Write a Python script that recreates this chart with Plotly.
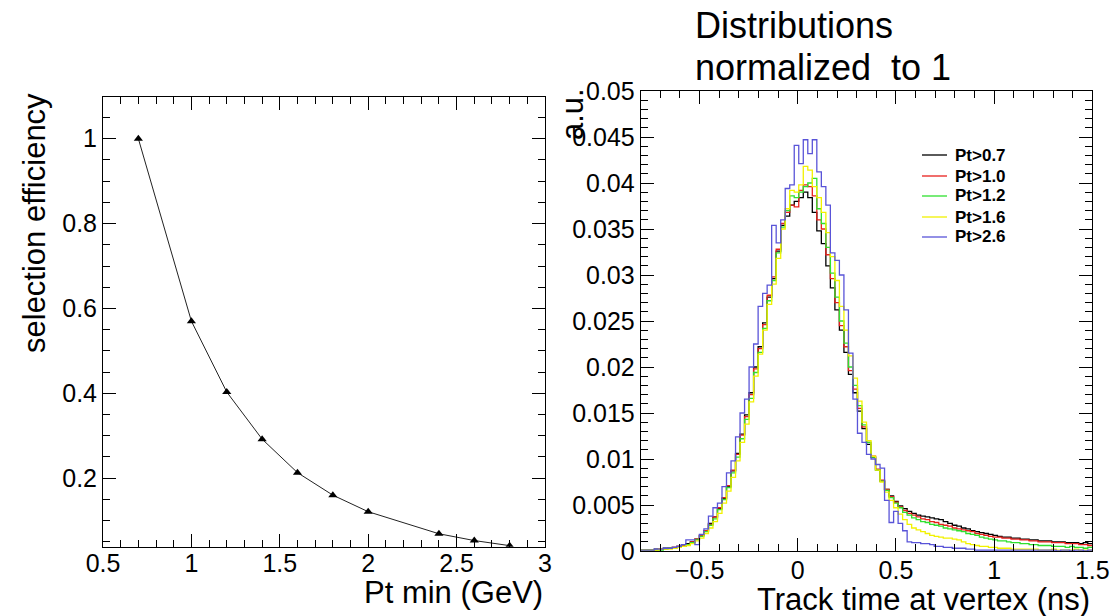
import numpy as np
import plotly.graph_objects as go

# ---------------- data ----------------
# Left panel: selection efficiency vs minimum Pt
pt_min = [0.7, 1.0, 1.2, 1.4, 1.6, 1.8, 2.0, 2.4, 2.6, 2.8]
efficiency = [1.0, 0.570, 0.403, 0.292, 0.213, 0.160, 0.121, 0.069, 0.053, 0.041]

# Right panel: histogram binning (track time at vertex, ns)
bin_low = -0.8
bin_width = 0.023
n_bins = 100

series_names = ["Pt>0.7", "Pt>1.0", "Pt>1.2", "Pt>1.6", "Pt>2.6"]
series_colors = ["#000000", "#e8201c", "#2fe02f", "#f2f200", "#5954d8"]

h_pt07 = [
    0.0001, 0.0001, 0.0001, 0.0002, 0.0002, 0.0003, 0.0003, 0.0004, 0.0005, 0.0006,
    0.0008, 0.0010, 0.0013, 0.0017, 0.0022, 0.0030, 0.0037, 0.0046, 0.0057, 0.0070,
    0.0087, 0.0106, 0.0127, 0.0148, 0.0172, 0.0200, 0.0222, 0.0248, 0.0276, 0.0296,
    0.0326, 0.0354, 0.0364, 0.0376, 0.0380, 0.0384, 0.0390, 0.0384, 0.0368, 0.0348,
    0.0334, 0.0310, 0.0286, 0.0262, 0.0240, 0.0216, 0.0192, 0.0172, 0.0152, 0.0133,
    0.0116, 0.0102, 0.0088, 0.0076, 0.0067, 0.0060, 0.0054, 0.0049, 0.0046, 0.0043,
    0.0041, 0.0039, 0.0038, 0.0037, 0.0036, 0.0035, 0.0034, 0.0032, 0.0030, 0.0028,
    0.0027, 0.0025, 0.0024, 0.0022, 0.0021, 0.0020, 0.0019, 0.0018, 0.0017, 0.0016,
    0.0015, 0.0015, 0.0014, 0.0014, 0.0013, 0.0013, 0.0012, 0.0012, 0.0011, 0.0011,
    0.0011, 0.0010, 0.0010, 0.0010, 0.0009, 0.0009, 0.0009, 0.0008, 0.0009, 0.0008,
]
h_pt10 = [
    0.0001, 0.0001, 0.0001, 0.0001, 0.0002, 0.0002, 0.0003, 0.0004, 0.0005, 0.0006,
    0.0007, 0.0010, 0.0013, 0.0017, 0.0022, 0.0029, 0.0037, 0.0047, 0.0058, 0.0071,
    0.0088, 0.0105, 0.0126, 0.0146, 0.0170, 0.0198, 0.0220, 0.0246, 0.0278, 0.0298,
    0.0328, 0.0356, 0.0368, 0.0376, 0.0374, 0.0392, 0.0398, 0.0396, 0.0386, 0.0360,
    0.0350, 0.0322, 0.0296, 0.0270, 0.0245, 0.0222, 0.0196, 0.0176, 0.0155, 0.0135,
    0.0118, 0.0103, 0.0089, 0.0077, 0.0067, 0.0059, 0.0053, 0.0048, 0.0044, 0.0041,
    0.0039, 0.0037, 0.0035, 0.0034, 0.0032, 0.0031, 0.0029, 0.0028, 0.0027, 0.0025,
    0.0024, 0.0023, 0.0022, 0.0021, 0.0019, 0.0018, 0.0017, 0.0016, 0.0015, 0.0015,
    0.0014, 0.0014, 0.0013, 0.0013, 0.0012, 0.0012, 0.0011, 0.0011, 0.0010, 0.0010,
    0.0010, 0.0009, 0.0009, 0.0009, 0.0008, 0.0008, 0.0008, 0.0007, 0.0007, 0.0006,
]
h_pt12 = [
    0.0001, 0.0001, 0.0001, 0.0001, 0.0001, 0.0002, 0.0003, 0.0003, 0.0004, 0.0005,
    0.0007, 0.0009, 0.0012, 0.0016, 0.0021, 0.0028, 0.0035, 0.0045, 0.0056, 0.0069,
    0.0085, 0.0102, 0.0122, 0.0143, 0.0166, 0.0194, 0.0216, 0.0242, 0.0272, 0.0294,
    0.0324, 0.0352, 0.0370, 0.0386, 0.0384, 0.0390, 0.0396, 0.0400, 0.0405, 0.0372,
    0.0356, 0.0330, 0.0302, 0.0276, 0.0250, 0.0226, 0.0200, 0.0180, 0.0158, 0.0137,
    0.0118, 0.0102, 0.0088, 0.0076, 0.0066, 0.0058, 0.0052, 0.0047, 0.0042, 0.0039,
    0.0036, 0.0034, 0.0032, 0.0031, 0.0029, 0.0028, 0.0027, 0.0025, 0.0024, 0.0023,
    0.0022, 0.0021, 0.0019, 0.0018, 0.0017, 0.0015, 0.0014, 0.0013, 0.0012, 0.0011,
    0.0011, 0.0010, 0.0009, 0.0009, 0.0008, 0.0008, 0.0007, 0.0007, 0.0006, 0.0006,
    0.0006, 0.0005, 0.0005, 0.0005, 0.0004, 0.0005, 0.0004, 0.0004, 0.0003, 0.0004,
]
h_pt16 = [
    0.0001, 0.0001, 0.0001, 0.0001, 0.0002, 0.0002, 0.0002, 0.0003, 0.0004, 0.0005,
    0.0006, 0.0008, 0.0011, 0.0014, 0.0019, 0.0025, 0.0032, 0.0041, 0.0052, 0.0065,
    0.0080, 0.0098, 0.0118, 0.0138, 0.0162, 0.0190, 0.0214, 0.0240, 0.0268, 0.0290,
    0.0318, 0.0350, 0.0372, 0.0392, 0.0390, 0.0398, 0.0418, 0.0414, 0.0396, 0.0384,
    0.0368, 0.0346, 0.0320, 0.0294, 0.0266, 0.0240, 0.0212, 0.0188, 0.0163, 0.0140,
    0.0120, 0.0103, 0.0088, 0.0075, 0.0064, 0.0055, 0.0047, 0.0040, 0.0034, 0.0029,
    0.0025, 0.0023, 0.0021, 0.0019, 0.0017, 0.0016, 0.0015, 0.0014, 0.0014, 0.0013,
    0.0012, 0.0010, 0.0008, 0.0007, 0.0006, 0.0005, 0.0005, 0.0004, 0.0004, 0.0003,
    0.0003, 0.0003, 0.0002, 0.0002, 0.0002, 0.0002, 0.0002, 0.0002, 0.0001, 0.0001,
    0.0001, 0.0002, 0.0001, 0.0001, 0.0001, 0.0001, 0.0002, 0.0001, 0.0001, 0.0001,
]
h_pt26 = [
    0.0001, 0.0001, 0.0001, 0.0002, 0.0002, 0.0003, 0.0003, 0.0004, 0.0005, 0.0007,
    0.0012, 0.0012, 0.0007, 0.0018, 0.0024, 0.0038, 0.0047, 0.0052, 0.0070, 0.0085,
    0.0098, 0.0124, 0.0150, 0.0165, 0.0200, 0.0225, 0.0266, 0.0280, 0.0289, 0.0354,
    0.0335, 0.0360, 0.0394, 0.0398, 0.0441, 0.0421, 0.0447, 0.0432, 0.0447, 0.0412,
    0.0396, 0.0376, 0.0324, 0.0316, 0.0300, 0.0262, 0.0215, 0.0165, 0.0128, 0.0118,
    0.0105, 0.0100, 0.0094, 0.0090, 0.0055, 0.0031, 0.0043, 0.0030, 0.0022, 0.0010,
    0.0009, 0.0009, 0.0008, 0.0008, 0.0007, 0.0005, 0.0005, 0.0004, 0.0004, 0.0003,
    0.0003, 0.0003, 0.0002, 0.0002, 0.0001, 0.0001, 0.0001, 0.0001, 0.0001, 0.0001,
    0.0001, 0.0001, 0.0001, 0.0001, 0.0001, 0.0001, 0.0001, 0.0001, 0.0001, 0.0001,
    0.0001, 0.0001, 0.0000, 0.0001, 0.0001, 0.0000, 0.0001, 0.0001, 0.0000, 0.0001,
]
series_values = [h_pt07, h_pt10, h_pt12, h_pt16, h_pt26]

# ---------------- figure ----------------
W, H = 1110, 616
FONT = "Liberation Sans, Arial, Helvetica, sans-serif"


def fx(px):
    return px / W


def fy(py):
    return 1 - py / H


fig = go.Figure()

fig.add_trace(go.Scatter(
    x=pt_min, y=efficiency, mode="lines+markers",
    line=dict(color="#222222", width=1),
    marker=dict(symbol="triangle-up", size=8, color="black"),
    showlegend=False, xaxis="x", yaxis="y",
))

edges = bin_low + bin_width * np.arange(n_bins + 1)
for name, vals, col in zip(series_names, series_values, series_colors):
    yv = list(vals) + [vals[-1]]
    fig.add_trace(go.Scatter(
        x=edges, y=yv, mode="lines", name=name,
        line=dict(shape="hv", color=col, width=1.3),
        xaxis="x2", yaxis="y2", showlegend=False,
    ))

common = dict(
    showline=True, linecolor="black", linewidth=1, mirror="allticks",
    ticks="inside", ticklen=13, tickwidth=1, tickcolor="black",
    showgrid=False, zeroline=False, automargin=False,
    tickfont=dict(family=FONT, size=25, color="black"),
)

fig.update_layout(
    width=W, height=H,
    margin=dict(l=0, r=0, t=0, b=0, pad=0, autoexpand=False),
    paper_bgcolor="white", plot_bgcolor="white",
    font=dict(family=FONT, color="black"),
    xaxis=dict(domain=[fx(103), fx(545)], range=[0.5, 3], dtick=0.5, tick0=0,
               anchor="y", ticklabelstandoff=-6,
               minor=dict(dtick=0.1, ticks="inside", ticklen=7, tickcolor="black", showgrid=False),
               **common),
    yaxis=dict(domain=[fy(546.7), fy(96.7)], range=[0.0385, 1.099], dtick=0.2, tick0=0,
               anchor="x",
               minor=dict(dtick=0.05, ticks="inside", ticklen=7, tickcolor="black", showgrid=False),
               **common),
    xaxis2=dict(domain=[fx(640.7), fx(1092.3)], range=[-0.8, 1.5], dtick=0.5, tick0=0,
                anchor="y2", ticklabelstandoff=-3,
                minor=dict(dtick=0.1, ticks="inside", ticklen=7, tickcolor="black", showgrid=False),
                **common),
    yaxis2=dict(domain=[fy(551), fy(91)], range=[0, 0.05], dtick=0.005, tick0=0,
                anchor="x2",
                minor=dict(dtick=0.001, ticks="inside", ticklen=7, tickcolor="black", showgrid=False),
                **common),
    showlegend=False,
)

ann = [
    dict(text="Pt min (GeV)", x=fx(545), y=fy(592), xanchor="right", yanchor="middle",
         font=dict(size=31)),
    dict(text="selection efficiency", x=fx(34), y=fy(223), xanchor="center", yanchor="middle",
         textangle=-90, font=dict(size=31)),
    dict(text="Track time at vertex (ns)", x=fx(1092), y=fy(599), xanchor="right",
         yanchor="middle", font=dict(size=31)),
    dict(text="a.u.", x=fx(573), y=fy(114), xanchor="center", yanchor="middle",
         textangle=-90, font=dict(size=31)),
    dict(text="Distributions", x=fx(693), y=fy(25), xanchor="left", yanchor="middle",
         font=dict(size=36)),
    dict(text="normalized  to 1", x=fx(693), y=fy(68), xanchor="left", yanchor="middle",
         font=dict(size=36)),
]

# Legend (drawn as key lines + labels, ROOT TLegend style)
legend_rows = [155, 176, 196, 217, 237]
shapes = []
for name, col, row in zip(series_names, series_colors, legend_rows):
    shapes.append(dict(type="line", xref="paper", yref="paper",
                       x0=fx(922), x1=fx(947), y0=fy(row), y1=fy(row),
                       line=dict(color=col, width=1.3)))
    ann.append(dict(text=name, x=fx(953), y=fy(row), xanchor="left", yanchor="middle",
                    font=dict(size=17, weight="bold")))

for a in ann:
    a.update(xref="paper", yref="paper", showarrow=False)
    a["font"].update(family=FONT, color="black")
fig.update_layout(annotations=ann, shapes=shapes)

# remove the browser's default 8px page margin so the figure fills the window
fig.write_html(
    "out.html",
    config={"displayModeBar": False, "staticPlot": True},
    post_script="document.body.style.margin='0';document.body.style.padding='0';",
)
